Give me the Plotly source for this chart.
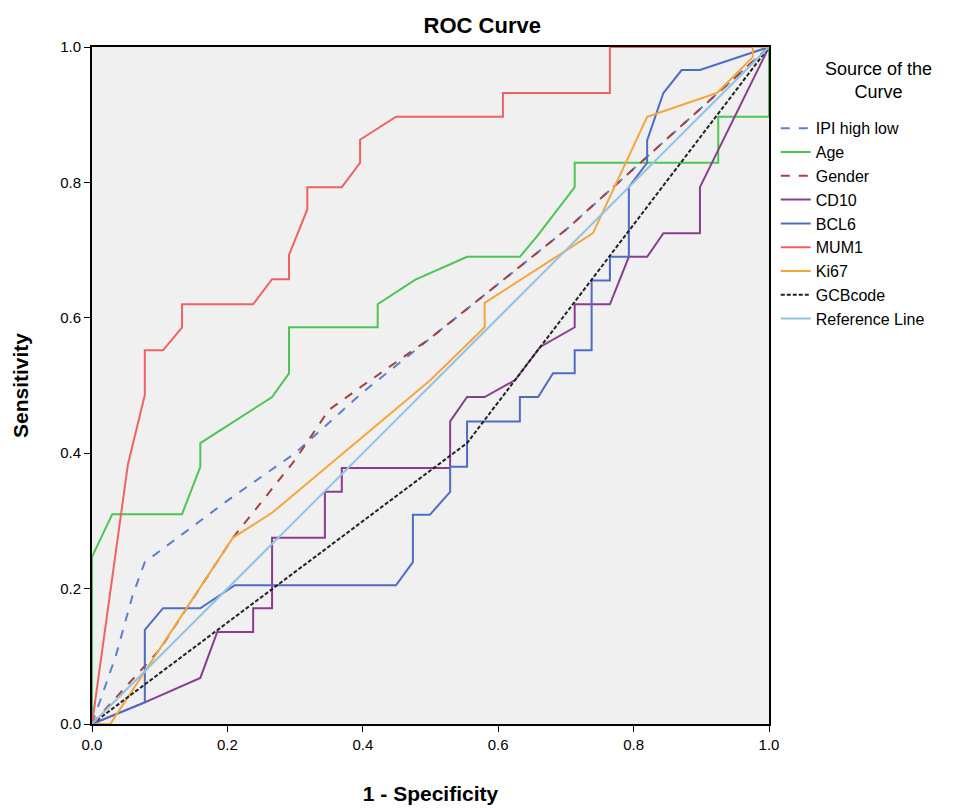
import plotly.graph_objects as go

# ROC coordinates (x = 1 - specificity, y = sensitivity)
ipi_x = [0, 0.035, 0.06, 0.078, 0.2, 0.3, 0.4, 0.5, 0.6, 0.7, 0.8, 0.9, 1]
ipi_y = [0, 0.10, 0.19, 0.239, 0.33, 0.40, 0.49, 0.57, 0.65, 0.73, 0.82, 0.91, 1]

age_x = [0, 0, 0.03, 0.133, 0.16, 0.16, 0.266, 0.291, 0.291, 0.422, 0.422, 0.477, 0.554, 0.632, 0.657,
         0.713, 0.713, 0.925, 0.925, 1, 1]
age_y = [0, 0.247, 0.31, 0.31, 0.38, 0.415, 0.483, 0.518, 0.586, 0.586, 0.62, 0.656, 0.69, 0.69, 0.72,
         0.793, 0.829, 0.829, 0.897, 0.897, 1]

gender_x = [0, 0.1, 0.208, 0.3, 0.35, 0.4, 0.5, 0.6, 0.7, 0.8, 0.9, 1]
gender_y = [0, 0.11, 0.275, 0.39, 0.464, 0.50, 0.57, 0.65, 0.73, 0.82, 0.91, 1]

cd10_x = [0, 0.078, 0.16, 0.185, 0.238, 0.238, 0.266, 0.266, 0.344, 0.344, 0.369, 0.369, 0.529, 0.529,
          0.554, 0.58, 0.625, 0.662, 0.713, 0.713, 0.765, 0.793, 0.82, 0.844, 0.898, 0.898, 1]
cd10_y = [0, 0.032, 0.068, 0.136, 0.136, 0.171, 0.171, 0.275, 0.275, 0.343, 0.343, 0.378, 0.378, 0.447,
          0.483, 0.483, 0.508, 0.557, 0.586, 0.62, 0.62, 0.69, 0.69, 0.725, 0.725, 0.793, 1]

bcl6_x = [0, 0.078, 0.078, 0.105, 0.16, 0.211, 0.449, 0.474, 0.474, 0.499, 0.529, 0.529, 0.554, 0.554,
          0.632, 0.632, 0.659, 0.681, 0.713, 0.713, 0.738, 0.738, 0.765, 0.765, 0.793, 0.793, 0.82, 0.82,
          0.844, 0.871, 0.898, 1]
bcl6_y = [0, 0.032, 0.139, 0.171, 0.171, 0.205, 0.205, 0.239, 0.309, 0.309, 0.343, 0.38, 0.38, 0.447,
          0.447, 0.483, 0.483, 0.518, 0.518, 0.552, 0.552, 0.655, 0.655, 0.69, 0.69, 0.793, 0.829, 0.862,
          0.932, 0.966, 0.966, 1]

mum1_x = [0, 0.053, 0.078, 0.078, 0.105, 0.133, 0.133, 0.238, 0.266, 0.291, 0.291, 0.318, 0.318, 0.369,
          0.396, 0.396, 0.449, 0.607, 0.607, 0.765, 0.765, 1]
mum1_y = [0, 0.383, 0.486, 0.552, 0.552, 0.586, 0.62, 0.62, 0.657, 0.657, 0.693, 0.76, 0.793, 0.793,
          0.829, 0.863, 0.897, 0.897, 0.932, 0.932, 1, 1]

ki67_x = [0, 0.027, 0.208, 0.266, 0.5, 0.58, 0.58, 0.74, 0.82, 0.923, 0.976, 0.976, 1]
ki67_y = [0, 0, 0.275, 0.312, 0.508, 0.586, 0.622, 0.725, 0.897, 0.932, 0.985, 1, 1]

gcb_x = [0, 0.554, 1]
gcb_y = [0, 0.415, 1]

ref_x = [0, 1]
ref_y = [0, 1]

series = [
    ("IPI high low", ipi_x, ipi_y, "#5b7fd0", "dash"),
    ("Age", age_x, age_y, "#4cc552", "solid"),
    ("Gender", gender_x, gender_y, "#a5413f", "dash"),
    ("CD10", cd10_x, cd10_y, "#8a3d8f", "solid"),
    ("BCL6", bcl6_x, bcl6_y, "#4f6cc4", "solid"),
    ("MUM1", mum1_x, mum1_y, "#f06262", "solid"),
    ("Ki67", ki67_x, ki67_y, "#f5a63a", "solid"),
    ("GCBcode", gcb_x, gcb_y, "#222222", "4px,2px"),
    ("Reference Line", ref_x, ref_y, "#94c2e2", "solid"),
]

fig = go.Figure()
for name, xs, ys, color, dash in series:
    fig.add_trace(go.Scatter(
        x=xs, y=ys, mode='lines', name=name,
        line=dict(color=color, width=2, dash=dash)
    ))

axis_common = dict(
    range=[0, 1], dtick=0.2, tickformat='.1f', showgrid=False, zeroline=False,
    showline=True, linecolor='black', linewidth=2, mirror=True,
    ticks='outside', ticklen=6, tickcolor='black',
    tickfont=dict(size=15, family="Liberation Sans", color='black'),
)

fig.update_layout(
    width=962, height=800,
    margin=dict(l=84, r=201, t=39, b=84, autoexpand=False),
    paper_bgcolor='white', plot_bgcolor='#f0f0f0',
    font=dict(family="Liberation Sans", color='black'),
    title=dict(text='<b>ROC Curve</b>', x=0.493, xanchor='center', y=0.978, yanchor='middle',
               font=dict(size=22, family="Liberation Sans")),
    xaxis=dict(axis_common, title=dict(text='<b>1 - Specificity</b>', font=dict(size=21), standoff=34)),
    yaxis=dict(axis_common, title=dict(text='<b>Sensitivity</b>', font=dict(size=21), standoff=26)),
    legend=dict(
        x=1.01, y=0.905, xanchor='left', yanchor='top',
        font=dict(size=16), bgcolor='rgba(0,0,0,0)', tracegroupgap=0, itemwidth=30
    ),
    annotations=[dict(
        text='Source of the<br>Curve', xref='paper', yref='paper', x=1.162, y=0.985,
        xanchor='center', yanchor='top', showarrow=False, align='center',
        font=dict(size=18)
    )],
)

fig.write_html("out.html")
